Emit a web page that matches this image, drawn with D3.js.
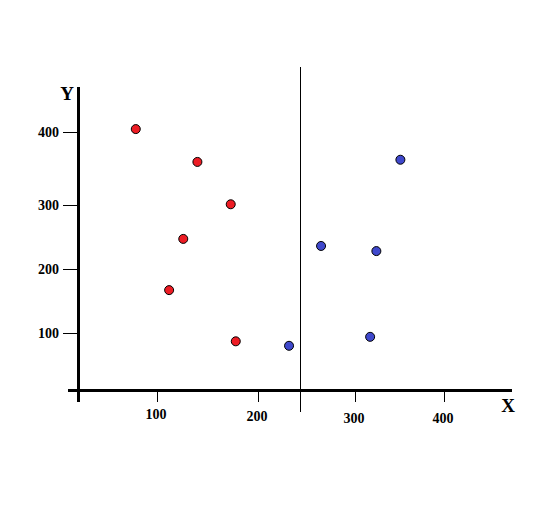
<!DOCTYPE html>
<html>
<head>
<meta charset="utf-8">
<script src="https://cdn.jsdelivr.net/npm/d3@7"></script>
<style>
  html, body { margin: 0; padding: 0; background: #fff; }
  svg { display: block; }
  text { font-family: "Liberation Serif", "DejaVu Serif", serif; font-weight: bold; fill: #000; }
</style>
</head>
<body>
<script>
// ---- data ----
const xTicks = [100, 200, 300, 400];
const yTicks = [100, 200, 300, 400];
const redX = [79, 140, 173, 126, 112, 178];
const redY = [404, 359, 301, 247, 167, 87];
const blueX = [351, 265, 324, 232, 317];
const blueY = [362, 236, 228, 80, 94];
const dividerX = 243;
const xLabel = "X";
const yLabel = "Y";

// ---- layout ----
const W = 560, H = 512;
const svg = d3.select("body").append("svg").attr("width", W).attr("height", H);

// hand-drawn axes: tick spacing is uneven, so use a polylinear scale through the tick positions
const x = d3.scaleLinear().domain(xTicks).range([157, 258, 355, 444]);
const y = d3.scaleLinear().domain(yTicks).range([333, 269, 205, 132]);

const axisX0 = 68, axisX1 = 512, axisY = 390.5;
const yAxisX = 78.5, yAxisTop = 87, yAxisBottom = 402;

// x axis line
svg.append("line").attr("x1", axisX0).attr("x2", axisX1).attr("y1", axisY).attr("y2", axisY)
  .attr("stroke", "#000").attr("stroke-width", 3);
// y axis line
svg.append("line").attr("x1", yAxisX).attr("x2", yAxisX).attr("y1", yAxisTop).attr("y2", yAxisBottom)
  .attr("stroke", "#000").attr("stroke-width", 3);

// x ticks
const xt = svg.append("g").selectAll("g").data(xTicks).join("g");
xt.append("line")
  .attr("x1", d => Math.round(x(d)) + 0.5).attr("x2", d => Math.round(x(d)) + 0.5)
  .attr("y1", axisY + 1).attr("y2", 402)
  .attr("stroke", "#000").attr("stroke-width", 1);
xt.append("text")
  .attr("x", d => x(d) - 1).attr("y", (d, i) => [419, 421, 423, 423][i])
  .attr("text-anchor", "middle").attr("font-size", 14)
  .text(d => d);

// y ticks
const yt = svg.append("g").selectAll("g").data(yTicks).join("g");
yt.append("line")
  .attr("x1", 63).attr("x2", 77)
  .attr("y1", d => Math.round(y(d)) + 0.5).attr("y2", d => Math.round(y(d)) + 0.5)
  .attr("stroke", "#000").attr("stroke-width", 1);
yt.append("text")
  .attr("x", 59).attr("y", d => y(d) + 4.5)
  .attr("text-anchor", "end").attr("font-size", 14)
  .text(d => d);

// divider line
svg.append("line")
  .attr("x1", Math.round(x(dividerX)) + 0.5).attr("x2", Math.round(x(dividerX)) + 0.5)
  .attr("y1", 67).attr("y2", 412)
  .attr("stroke", "#000").attr("stroke-width", 1);

// axis labels
svg.append("text").attr("x", 67).attr("y", 100).attr("text-anchor", "middle")
  .attr("font-size", 19).text(yLabel);
svg.append("text").attr("x", 508).attr("y", 412).attr("text-anchor", "middle")
  .attr("font-size", 19).text(xLabel);

// points
const red = redX.map((v, i) => ({ x: v, y: redY[i] }));
const blue = blueX.map((v, i) => ({ x: v, y: blueY[i] }));

svg.append("g").selectAll("circle").data(red).join("circle")
  .attr("cx", d => x(d.x)).attr("cy", d => y(d.y)).attr("r", 4.5)
  .attr("fill", "#ed1c24").attr("stroke", "#000").attr("stroke-width", 1);
svg.append("g").selectAll("circle").data(blue).join("circle")
  .attr("cx", d => x(d.x)).attr("cy", d => y(d.y)).attr("r", 4.5)
  .attr("fill", "#3f48cc").attr("stroke", "#000").attr("stroke-width", 1);
</script>
</body>
</html>
